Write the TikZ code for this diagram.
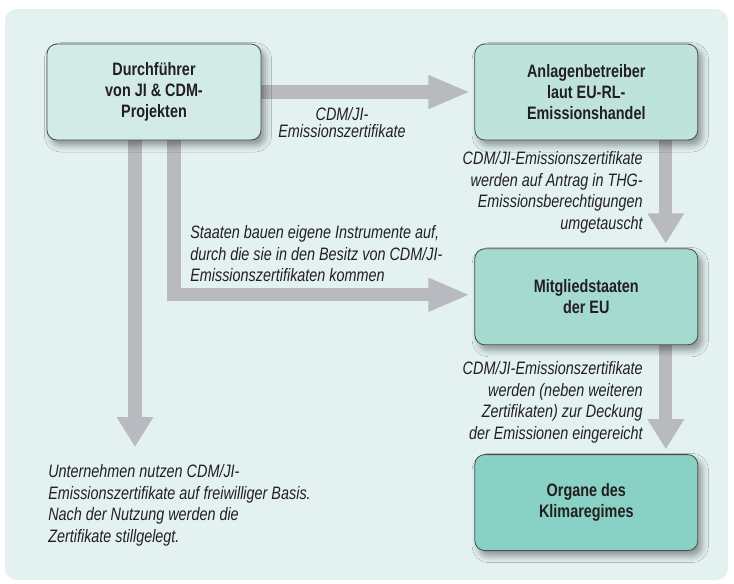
\documentclass[tikz,border=0pt]{standalone}
\usepackage{fontspec}
\setmainfont{Liberation Sans}[FakeStretch=0.8]
\usetikzlibrary{arrows.meta,positioning,shadows.blur}

\definecolor{panelbg}{RGB}{227,242,241}
\definecolor{fillA}{RGB}{211,235,231}
\definecolor{fillB}{RGB}{190,227,219}
\definecolor{fillC}{RGB}{165,218,209}
\definecolor{fillD}{RGB}{137,209,196}
\definecolor{flowgray}{RGB}{185,186,191}
\definecolor{boxline}{RGB}{74,74,74}
\definecolor{ink}{RGB}{35,31,32}

\pgfdeclarelayer{back}
\pgfsetlayers{back,main}

\begin{document}
\begin{tikzpicture}[
  x=0.75pt, y=-0.75pt,
  node distance=81pt,
  box/.style={draw=boxline, line width=0.6pt, rounded corners=7.5pt, align=center,
    minimum width=167.25pt, minimum height=72pt, inner sep=0pt, text=ink,
    font=\fontsize{13.5pt}{15.6pt}\selectfont\bfseries,
    blur shadow={shadow xshift=3pt, shadow yshift=-4pt, shadow blur radius=5pt, shadow opacity=40}},
  note/.style={inner sep=0pt, text=ink, font=\fontsize{13.5pt}{16.3pt}\selectfont\itshape},
  hflow/.style={draw=flowgray, line width=10pt, -{Triangle[length=31.5pt, width=23pt]}, shorten >=3pt},
  vflow/.style={draw=flowgray, line width=10pt, -{Triangle[length=22.5pt, width=26pt]}, shorten >=3.75pt}
]
\useasboundingbox (0,0) rectangle (734,583);

% boxes
\node[box, fill=fillA, minimum width=160.5pt] (executor) at (154,92) {Durchführer\\von JI \& CDM-\\Projekten};
\node[box, fill=fillB, right=159.75pt of executor] (operator) {Anlagenbetreiber\\laut EU-RL-\\Emissionshandel};
\node[box, fill=fillC, below=of operator] (states) {Mitgliedstaaten\\der EU};
\node[box, fill=fillD, below=81.75pt of states] (regime) {Organe des\\Klimaregimes};

% notes
\node[note, align=center, anchor=north, font=\fontsize{13.5pt}{13pt}\selectfont\itshape] (certs) at (342,107) {CDM/JI-\\Emissionszertifikate};
\node[note, align=right, anchor=north east] (exchange) at (643,151) {CDM/JI-Emissionszertifikate\\werden auf Antrag in THG-\\Emissionsberechtigungen\\umgetauscht};
\node[note, align=left, anchor=north west] (instruments) at (190,225) {Staaten bauen eigene Instrumente auf,\\durch die sie in den Besitz von CDM/JI-\\Emissionszertifikaten kommen};
\node[note, align=right, anchor=north east] (submit) at (643,361) {CDM/JI-Emissionszertifikate\\werden (neben weiteren\\Zertifikaten) zur Deckung\\der Emissionen eingereicht};
\node[note, align=left, anchor=north west] (voluntary) at (48,464) {Unternehmen nutzen CDM/JI-\\Emissionszertifikate auf freiwilliger Basis.\\Nach der Nutzung werden die\\Zertifikate stillgelegt.};
\coordinate (voluntarytip) at (135,447);

\begin{pgfonlayer}{back}
\fill[panelbg, rounded corners=9pt] (5,9) rectangle (728,580);
\draw[hflow] (executor) -- (operator);
\draw[vflow, shorten >=0pt] ([xshift=-14.25pt]executor.south) -- (voluntarytip);
\draw[hflow, line join=miter] ([xshift=15pt]executor.south) |- ([yshift=1.5pt]states.west);
\draw[vflow] ([xshift=59.625pt]operator.south) -- ([xshift=59.625pt]states.north);
\draw[vflow] ([xshift=59.625pt]states.south) -- ([xshift=59.625pt]regime.north);
\end{pgfonlayer}
\end{tikzpicture}
\end{document}
